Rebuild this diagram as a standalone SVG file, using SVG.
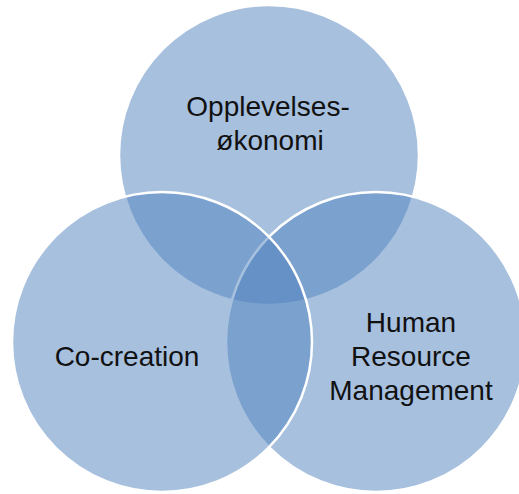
<svg xmlns="http://www.w3.org/2000/svg" width="519" height="494" viewBox="0 0 519 494">
  <style>
    .c { fill: #4F81BD; fill-opacity: 0.5; stroke: #FFFFFF; stroke-width: 2.5; }
    .t { font-family: "Liberation Sans", Arial, sans-serif; font-size: 28px; fill: #111111; text-anchor: middle; }
  </style>
  <rect width="519" height="494" fill="#FFFFFF"/>
  <g id="opplevelsesokonomi">
    <circle class="c" cx="269" cy="155" r="150"/>
  </g>
  <g id="hrm">
    <circle class="c" cx="376" cy="342" r="150"/>
  </g>
  <g id="cocreation">
    <circle class="c" cx="162" cy="342" r="150"/>
  </g>
  <g id="labels">
    <text class="t" x="268" y="116">Opplevelses-</text>
    <text class="t" x="270" y="150">økonomi</text>
    <text class="t" x="127" y="366">Co-creation</text>
    <text class="t" x="411" y="332">Human</text>
    <text class="t" x="411" y="366">Resource</text>
    <text class="t" x="411" y="400">Management</text>
  </g>
  <g id="connectors"></g>
</svg>
